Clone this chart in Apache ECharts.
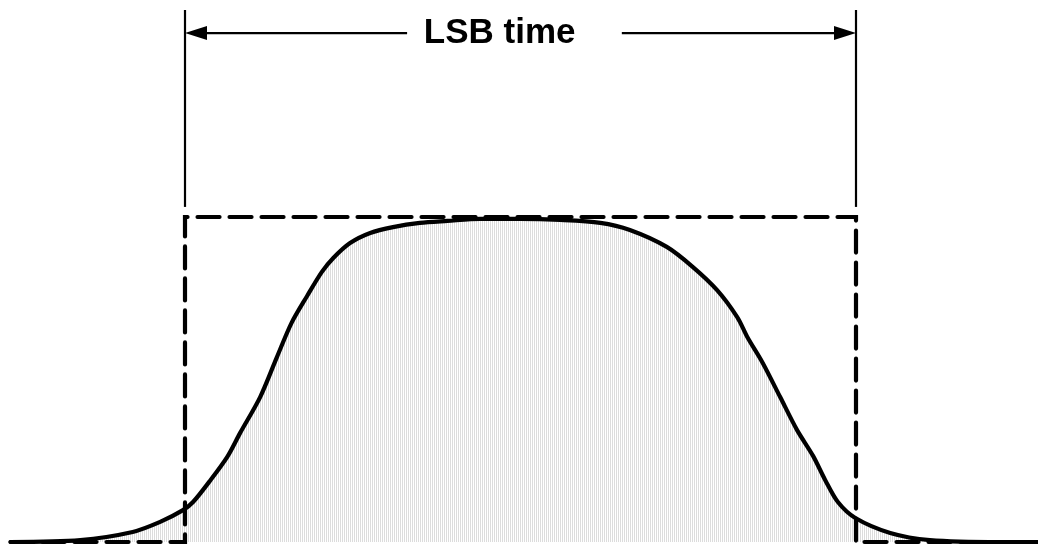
<!DOCTYPE html>
<html>
<head>
<meta charset="utf-8">
<script src="https://cdn.jsdelivr.net/npm/echarts@6/dist/echarts.min.js"></script>
<style>
html,body{margin:0;padding:0;background:#fff;}
#chart{width:1038px;height:545px;}
</style>
</head>
<body>
<div id="chart"></div>
<script>
// Measured output pulse (time in % of LSB duration, amplitude normalised)
const timeValues = [-26, -15.6, -7.8, -3.7, -0.3, 1.2, 3.6, 6.3, 8.2, 11.2, 13.7, 15.9, 18.2, 20.4, 22.1, 24.6, 27.6, 31.0, 35.0, 39.1, 44.0, 49.9, 55.9, 61.9, 66.3, 71.8, 75.7, 79.3, 82.3, 83.8, 86.1, 88.7, 91.2, 93.6, 95.4, 97.3, 99.9, 105.1, 111.0, 121.5, 126.7];
const signalValues = [0, 0.006, 0.031, 0.062, 0.098, 0.123, 0.185, 0.262, 0.335, 0.446, 0.569, 0.675, 0.757, 0.831, 0.874, 0.920, 0.951, 0.969, 0.982, 0.988, 0.994, 0.994, 0.991, 0.982, 0.960, 0.908, 0.846, 0.775, 0.692, 0.631, 0.551, 0.446, 0.345, 0.265, 0.191, 0.123, 0.074, 0.028, 0.006, 0, 0];

// Ideal rectangular pulse
const idealTime = [-26, 0, 0, 100, 100, 127];
const idealValues = [0, 0, 1, 1, 0, 0];

// Annotation (data coordinates)
const lsbStart = 0;
const lsbEnd = 100;
const markerBottom = 1.031;
const markerTop = 1.637;
const arrowLevel = 1.566;
const arrowLeftEnd = 33.1;
const arrowRightStart = 65.1;
const labelX = 46.9;
const labelText = 'LSB time';

const xMin = -26, xMax = 127, yMin = 0, yMax = 1.65;

// hatch pattern for the fill
const pat = document.createElement('canvas');
pat.width = 2; pat.height = 2;
const pc = pat.getContext('2d');
pc.fillStyle = '#ffffff'; pc.fillRect(0,0,2,2);
pc.fillStyle = '#dcdcdc'; pc.fillRect(0,0,1,2);

const curveData = timeValues.map((t, i) => [t, signalValues[i]]);
const idealData = idealTime.map((t, i) => [t, idealValues[i]]);

const chart = echarts.init(document.getElementById('chart'), null, {renderer: 'canvas'});
chart.setOption({
  animation: false,
  backgroundColor: '#ffffff',
  grid: {left: 10.54, right: 0.83, top: 5.75, bottom: 3},
  xAxis: {type: 'value', min: xMin, max: xMax, show: false},
  yAxis: {type: 'value', min: yMin, max: yMax, show: false},
  series: [
    {
      type: 'line',
      data: curveData,
      smooth: 0.3,
      symbol: 'none',
      clip: false,
      z: 2,
      lineStyle: {color: '#000', width: 4.2, cap: 'round', join: 'round'},
      areaStyle: {color: {image: pat, repeat: 'repeat'}, opacity: 1, origin: 'start'}
    },
    {
      type: 'line',
      data: idealData,
      symbol: 'none',
      clip: false,
      z: 3,
      lineStyle: {color: '#000', width: 4.2, type: [22, 10], cap: 'round', join: 'miter'}
    },
    {
      type: 'custom',
      data: [[lsbStart, arrowLevel]],
      clip: false,
      z: 4,
      renderItem: function (params, api) {
        const a = api.coord([lsbStart, markerBottom]);
        const b = api.coord([lsbStart, markerTop]);
        const c = api.coord([lsbEnd, markerBottom]);
        const d = api.coord([lsbEnd, markerTop]);
        const l0 = api.coord([lsbStart, arrowLevel]);
        const l1 = api.coord([arrowLeftEnd, arrowLevel]);
        const r0 = api.coord([arrowRightStart, arrowLevel]);
        const r1 = api.coord([lsbEnd, arrowLevel]);
        const t = api.coord([labelX, arrowLevel]);
        const ah = 22, aw = 7;
        const ls = {stroke: '#000', lineWidth: 2.2};
        return {
          type: 'group',
          children: [
            {type: 'line', shape: {x1: a[0], y1: a[1], x2: b[0], y2: b[1]}, style: ls},
            {type: 'line', shape: {x1: c[0], y1: c[1], x2: d[0], y2: d[1]}, style: ls},
            {type: 'line', shape: {x1: l0[0] + ah - 2, y1: l0[1], x2: l1[0], y2: l1[1]}, style: ls},
            {type: 'line', shape: {x1: r0[0], y1: r0[1], x2: r1[0] - ah + 2, y2: r1[1]}, style: ls},
            {type: 'polygon', shape: {points: [[l0[0], l0[1]], [l0[0] + ah, l0[1] - aw], [l0[0] + ah, l0[1] + aw]]}, style: {fill: '#000'}},
            {type: 'polygon', shape: {points: [[r1[0], r1[1]], [r1[0] - ah, r1[1] - aw], [r1[0] - ah, r1[1] + aw]]}, style: {fill: '#000'}},
            {type: 'text', x: t[0], y: t[1], style: {text: labelText, fill: '#000', font: 'bold 35px "Liberation Sans", Arial, sans-serif', align: 'center', verticalAlign: 'middle'}}
          ]
        };
      }
    }
  ]
});
</script>
</body>
</html>
